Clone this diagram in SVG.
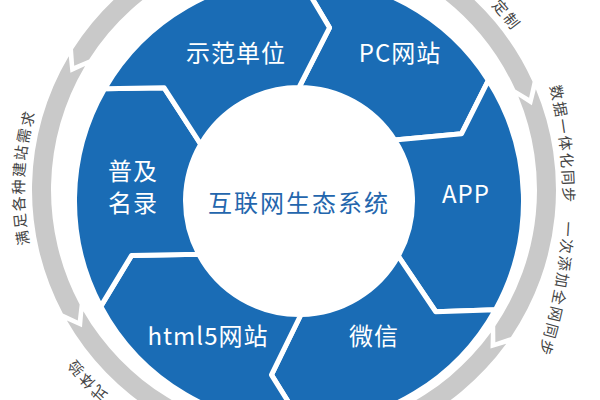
<svg xmlns="http://www.w3.org/2000/svg" xmlns:xlink="http://www.w3.org/1999/xlink" width="600" height="400" viewBox="0 0 600 400">
<style>
.seg{fill:#1a6cb5;stroke:#ffffff;stroke-width:5;stroke-linejoin:round}
.arc{fill:#c9c9c9}
.lbl{font-family:"Noto Sans CJK SC","Noto Sans",sans-serif;font-size:24px;fill:#ffffff;text-anchor:middle;letter-spacing:1px}
.ctr{font-family:"Noto Sans CJK SC","Noto Sans",sans-serif;font-size:24px;fill:#2466ad;text-anchor:middle;letter-spacing:2px}
.ring{font-family:"Noto Sans CJK SC","Noto Sans",sans-serif;font-size:15px;fill:#444444}
</style>
<defs>
<path id="cR" d="M69,-294 A494,494 0 1 1 69,694 A494,494 0 1 1 69,-294"/>
<path id="c270" d="M294,-80 A270,270 0 1 1 294,460 A270,270 0 1 1 294,-80"/>
<path id="c276" d="M294,-86 A276,276 0 1 1 294,466 A276,276 0 1 1 294,-86"/>
</defs>
<rect width="600" height="400" fill="#ffffff"/>

<g id="outer-ring">
<path class="arc" d="M73.03,49.23 A262,262 0 0 1 532.60,81.77 L529.09,97.87 L515.30,89.62 A243,243 0 0 0 89.06,59.44 L74.23,65.66 Z"/>
<path class="arc" d="M535.88,89.31 A262,262 0 0 1 510.95,336.89 L495.37,342.31 L495.22,326.24 A243,243 0 0 0 518.34,96.62 L531.87,105.30 Z"/>
<path class="arc" d="M506.23,343.63 A262,262 0 0 1 66.87,320.60 L82.00,327.15 L83.34,311.13 A243,243 0 0 0 490.84,332.49 L490.51,348.56 Z"/>
<path class="arc" d="M62.88,313.42 A262,262 0 0 1 68.76,56.20 L70.44,72.63 L85.09,65.91 A243,243 0 0 0 79.64,304.47 L77.79,320.42 Z"/>
</g>

<g id="ring-texts">
<text class="ring" letter-spacing="1.8"><textPath xlink:href="#c270" href="#c270" startOffset="221">定制</textPath></text>
<text class="ring" letter-spacing="2"><textPath xlink:href="#cR" href="#cR" startOffset="661">数据一体化同步　一次添加全网同步</textPath></text>
<text class="ring" letter-spacing="1.8"><textPath xlink:href="#c276" href="#c276" startOffset="1070">式体验</textPath></text>
<text class="ring" letter-spacing="1.8"><textPath xlink:href="#c270" href="#c270" startOffset="1217">满足各种建站需求</textPath></text>
</g>

<g id="connectors"></g>

<g id="node-pc">
<path class="seg" d="M299,-23.5 A224.5,224.5 0 0 1 488.34,80.38 L461.60,133.65 L394.72,140.02 A113.5,113.5 0 0 0 299,87.5 L329.56,27.67 Z"/>
<text class="lbl" x="400" y="62">PC网站</text>
</g>
<g id="node-app">
<path class="seg" d="M488.34,80.38 A224.5,224.5 0 0 1 495.35,309.84 L435.78,311.76 L398.27,256.03 A113.5,113.5 0 0 0 394.72,140.02 L461.60,133.65 Z"/>
<text class="lbl" x="466" y="203">APP</text>
</g>
<g id="node-weixin">
<path class="seg" d="M495.35,309.84 A224.5,224.5 0 0 1 302.92,425.47 L271.47,374.83 L300.98,314.48 A113.5,113.5 0 0 0 398.27,256.03 L435.78,311.76 Z"/>
<text class="lbl" x="374" y="345">微信</text>
</g>
<g id="node-html5">
<path class="seg" d="M302.92,425.47 A224.5,224.5 0 0 1 100.78,306.40 L131.61,255.39 L198.79,254.28 A113.5,113.5 0 0 0 300.98,314.48 L271.47,374.83 Z"/>
<text class="lbl" x="208" y="345">html5网站</text>
</g>
<g id="node-puji">
<path class="seg" d="M100.78,306.40 A224.5,224.5 0 0 1 104.58,88.75 L164.18,87.87 L200.71,144.25 A113.5,113.5 0 0 0 198.79,254.28 L131.61,255.39 Z"/>
<text class="lbl" x="133" y="180">普及</text>
<text class="lbl" x="133" y="212">名录</text>
</g>
<g id="node-shifan">
<path class="seg" d="M104.58,88.75 A224.5,224.5 0 0 1 299,-23.5 L329.56,27.67 L299,87.5 A113.5,113.5 0 0 0 200.71,144.25 L164.18,87.87 Z"/>
<text class="lbl" x="236" y="62">示范单位</text>
</g>
<g id="node-center">
<circle cx="299" cy="201" r="113" fill="#ffffff"/>
<text class="ctr" x="299" y="212">互联网生态系统</text>
</g>
</svg>
